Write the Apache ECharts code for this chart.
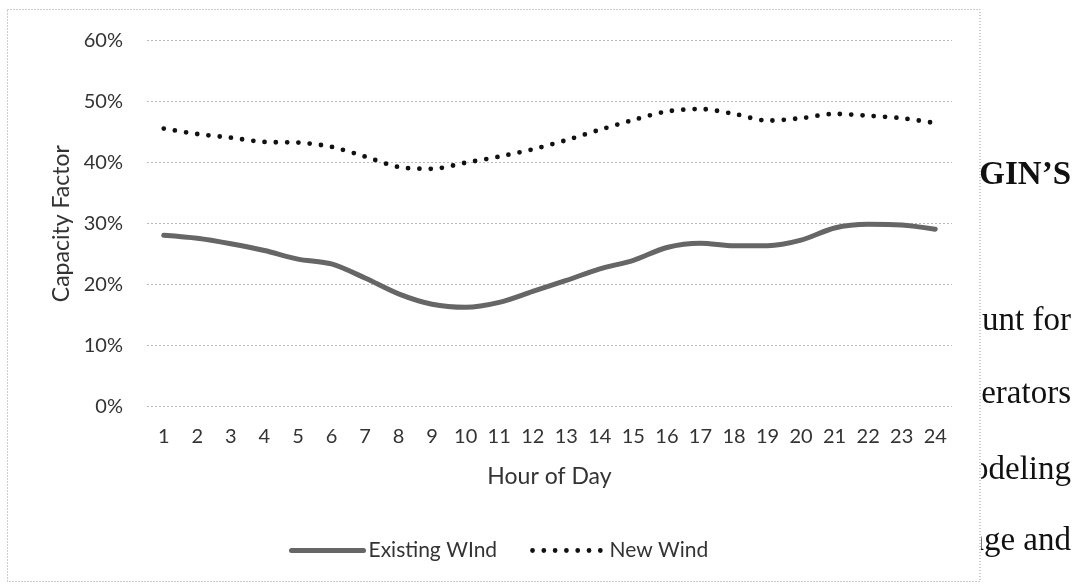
<!DOCTYPE html>
<html>
<head>
<meta charset="utf-8">
<script src="https://cdn.jsdelivr.net/npm/echarts@6/dist/echarts.min.js"></script>
<style>
  html, body { margin: 0; padding: 0; background: #fff; }
  #chart { width: 1080px; height: 584px; }
</style>
</head>
<body>
<div id="chart"></div>
<script>
// Hourly capacity factor profiles (percent)
const hours = ['1','2','3','4','5','6','7','8','9','10','11','12',
               '13','14','15','16','17','18','19','20','21','22','23','24'];
const existingWind = [28.1, 27.6, 26.7, 25.6, 24.2, 23.4, 21.1, 18.5, 16.8, 16.3, 17.1, 18.9,
                      20.7, 22.6, 24.0, 26.1, 26.8, 26.4, 26.4, 27.3, 29.3, 29.9, 29.8, 29.1];
const newWind = [45.6, 44.7, 44.1, 43.4, 43.3, 42.6, 41.0, 39.3, 39.0, 40.0, 41.0, 42.2,
                 43.7, 45.4, 47.0, 48.4, 48.8, 48.0, 46.9, 47.3, 48.0, 47.7, 47.3, 46.5];
const seriesNames = ['Existing WInd', 'New Wind'];
const axisTitles = { x: 'Hour of Day', y: 'Capacity Factor' };

// Surrounding page text at the right edge of the figure
const sideText = [
  { text: 'GIN’S', bold: true, baseline: 186 },
  { text: 'ount for', bold: false, baseline: 332 },
  { text: 'nerators', bold: false, baseline: 405 },
  { text: 'modeling', bold: false, baseline: 481 },
  { text: 'age and', bold: false, baseline: 552 }
];

const sans = 'Lato, "Open Sans", sans-serif';
const ink = '#333333';

const chart = echarts.init(document.getElementById('chart'), null, { renderer: 'canvas' });

const sideGraphics = sideText.map(t => ({
  type: 'text',
  z: -2,
  x: 1071,
  y: t.baseline - 11,
  style: {
    text: t.text,
    fill: '#111',
    font: (t.bold ? 'bold ' : '') + '33px "Liberation Serif", "DejaVu Serif", serif',
    textAlign: 'right',
    textVerticalAlign: 'middle'
  }
}));

// legend shows only the line sample, no marker in its middle
const noMarker = { color: 'rgba(0,0,0,0)', borderWidth: 0, opacity: 0 };

chart.setOption({
  backgroundColor: '#ffffff',
  animation: false,
  grid: { left: 147, right: 128, top: 40.7, bottom: 177.3, containLabel: false },
  legend: {
    left: 284,
    top: 535,
    itemWidth: 72,
    itemHeight: 14,
    itemGap: 33,
    textStyle: { fontFamily: sans, fontSize: 21, color: ink },
    data: [
      { name: seriesNames[0], lineStyle: { width: 5 }, itemStyle: noMarker },
      { name: seriesNames[1], lineStyle: { width: 4.8 }, itemStyle: noMarker }
    ]
  },
  xAxis: {
    type: 'category',
    data: hours,
    boundaryGap: true,
    axisLine: { show: false },
    axisTick: { show: false },
    axisLabel: { fontFamily: sans, fontSize: 20, color: ink, margin: 20, interval: 0 },
    name: axisTitles.x,
    nameLocation: 'middle',
    nameGap: 58,
    nameTextStyle: { fontFamily: sans, fontSize: 23, color: ink }
  },
  yAxis: {
    type: 'value',
    min: 0,
    max: 60,
    interval: 10,
    axisLine: { show: false },
    axisTick: { show: false },
    axisLabel: { fontFamily: sans, fontSize: 20, color: ink, margin: 24, formatter: '{value}%' },
    splitLine: { show: true, lineStyle: { color: '#b8b8b8', width: 1, type: [2, 2] } },
    name: axisTitles.y,
    nameLocation: 'middle',
    nameRotate: 90,
    nameGap: 72,
    nameTextStyle: { fontFamily: sans, fontSize: 23, color: ink }
  },
  series: [
    {
      name: seriesNames[0],
      type: 'line',
      data: existingWind,
      smooth: 0.3,
      symbol: 'none',
      lineStyle: { color: '#666666', width: 5, cap: 'round', join: 'round' },
      itemStyle: { color: '#666666' }
    },
    {
      name: seriesNames[1],
      type: 'line',
      data: newWind,
      smooth: 0.3,
      symbol: 'none',
      lineStyle: { color: '#111111', width: 4.8, type: [0, 11.3], cap: 'round' },
      itemStyle: { color: '#111111' }
    }
  ],
  graphic: sideGraphics.concat([
    // white panel of the figure hides the page text behind it
    { type: 'rect', z: -1, shape: { x: 0, y: 0, width: 981, height: 584 }, style: { fill: '#ffffff' } },
    // dotted figure frame
    {
      type: 'rect', z: 10, silent: true,
      shape: { x: 7.5, y: 9.5, width: 972.5, height: 572 },
      style: { fill: null, stroke: '#9a9a9a', lineWidth: 1, lineDash: [1, 2] }
    }
  ])
});
</script>
</body>
</html>
